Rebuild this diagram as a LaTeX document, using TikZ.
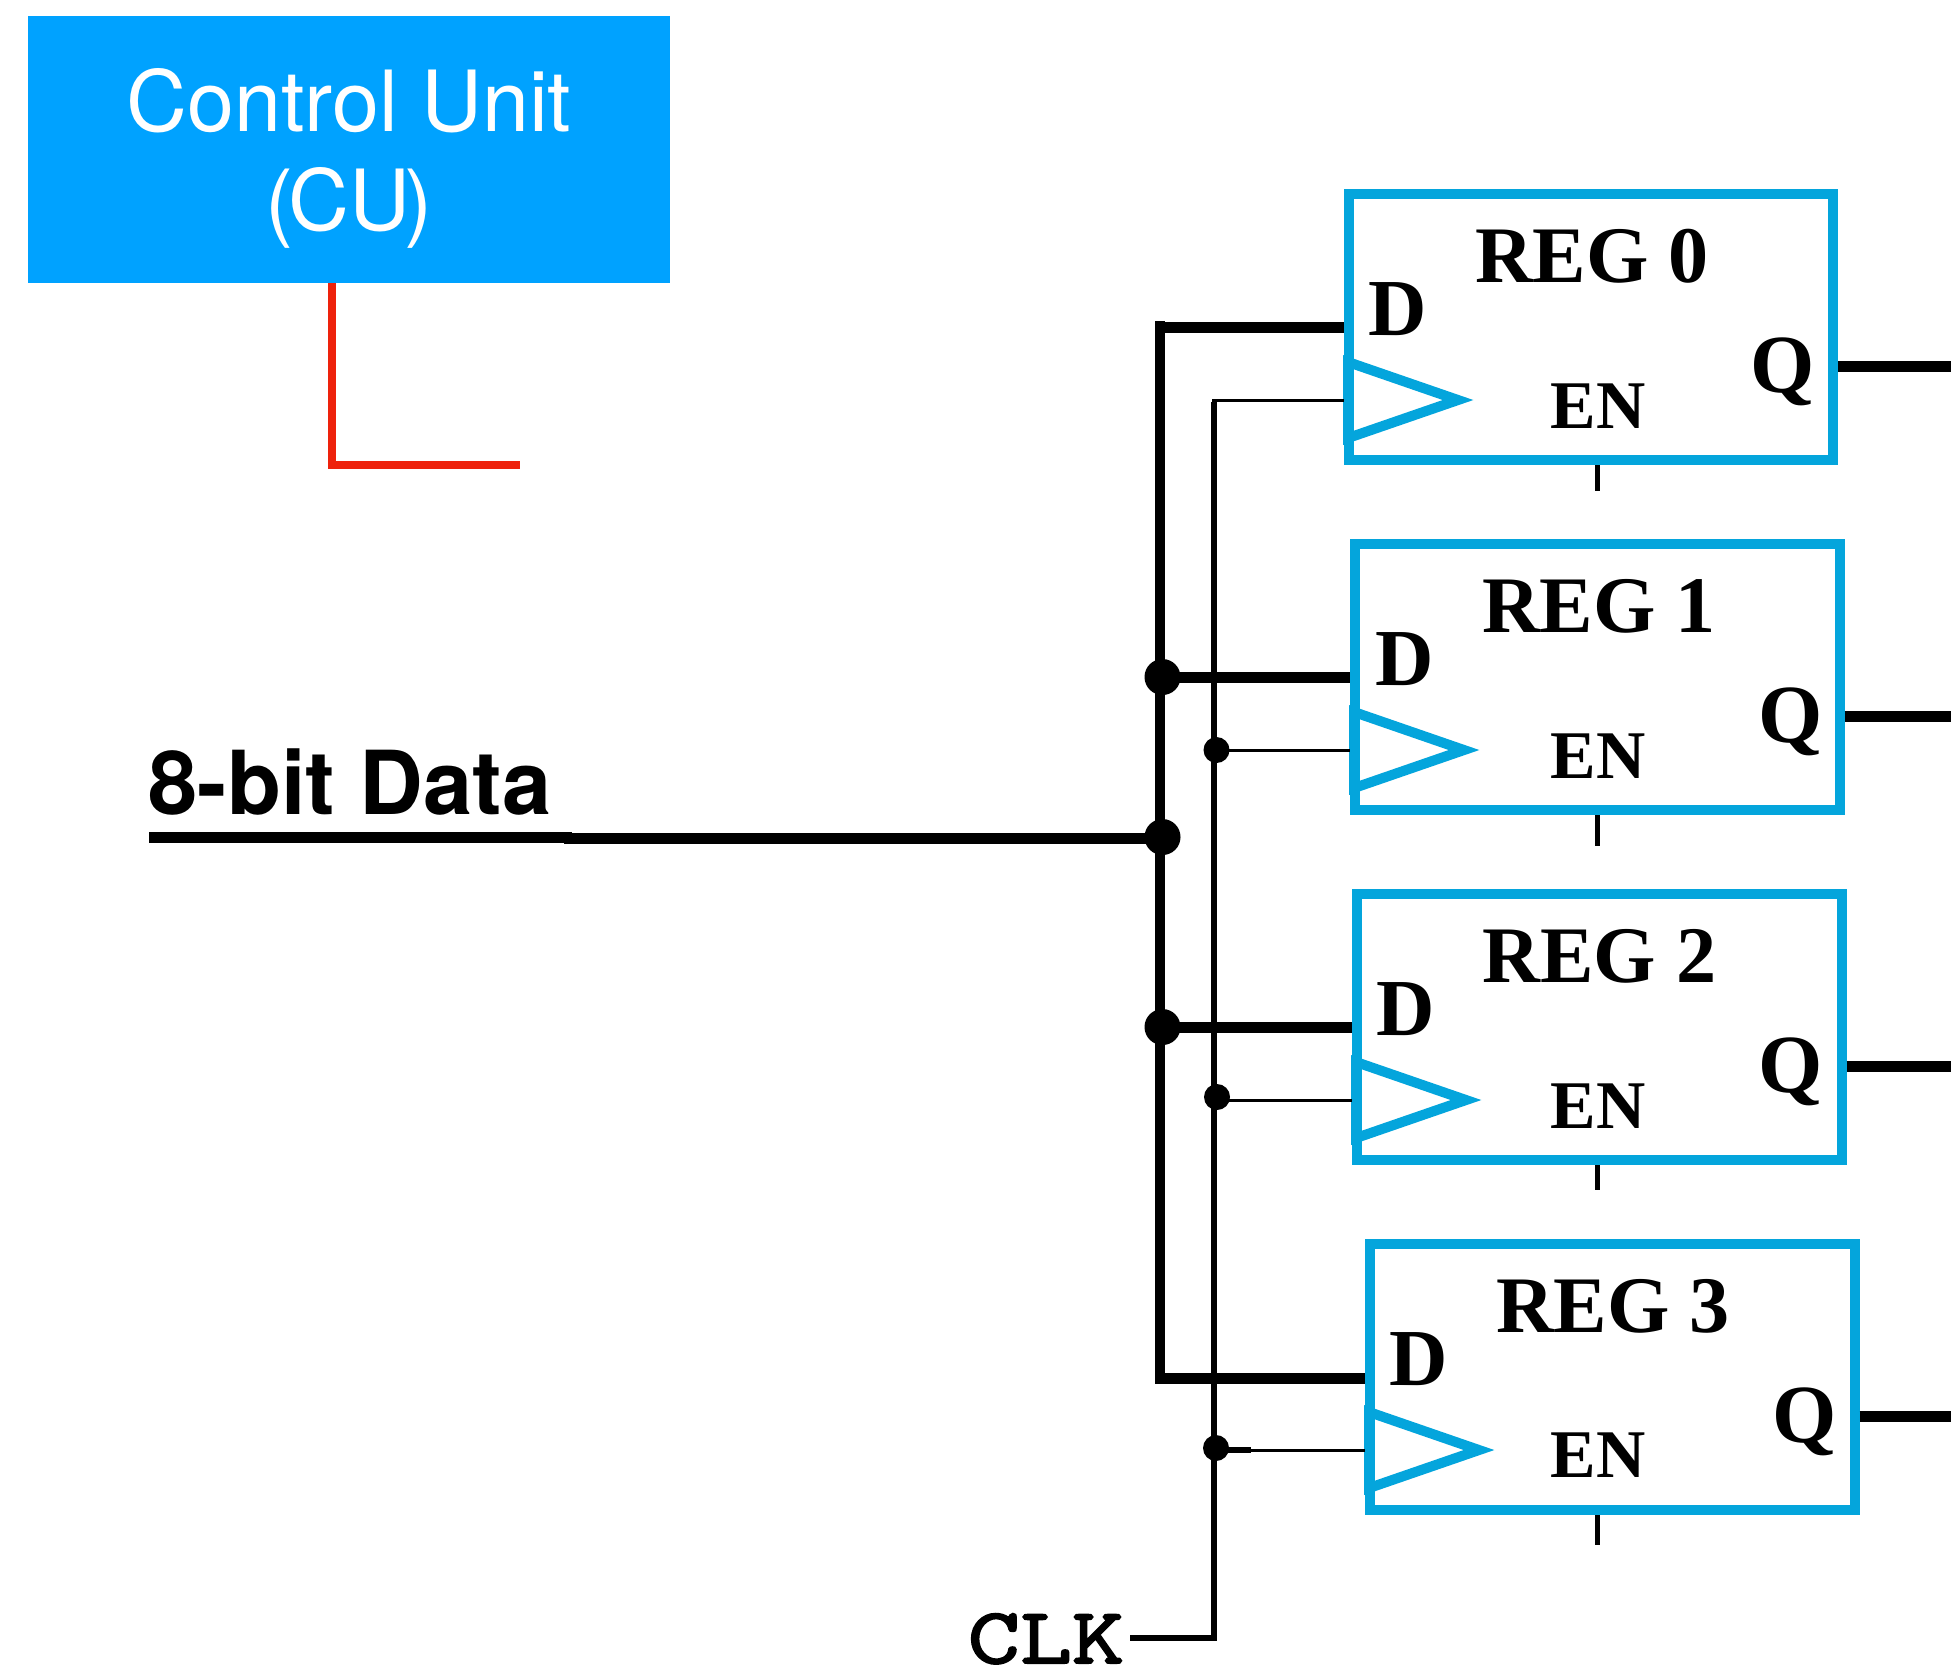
\documentclass[tikz,border=0pt]{standalone}
\usepackage{fontspec}
\setmainfont{Liberation Serif}
\setsansfont{TeX Gyre Heros}
\newfontfamily\clkfont[FakeBold=2.5,FakeStretch=1.28]{Latin Modern Mono}
\definecolor{cublue}{HTML}{00A2FF}
\definecolor{regblue}{HTML}{04A5DC}
\definecolor{cured}{HTML}{EE220C}

\begin{document}
\begin{tikzpicture}[x=0.01cm, y=-0.01cm]
\tikzset{regbox/.style={draw=regblue, line width=0.1cm, minimum width=4.84cm, minimum height=2.66cm, inner sep=0pt}}
\tikzset{clktri/.style={draw=regblue, line width=0.1cm, miter limit=10}}
\tikzset{cubox/.style={fill=cublue, minimum width=6.42cm, minimum height=2.67cm, inner sep=0pt, outer sep=0pt}}
\tikzset{bigdot/.style={fill=black, circle, minimum size=0.36cm, inner sep=0pt, outer sep=0pt}}
\tikzset{tinydot/.style={fill=black, circle, minimum size=0.26cm, inner sep=0pt, outer sep=0pt}}
\tikzset{buswire/.style={line width=0.11cm}}
\tikzset{clkwire/.style={line width=0.055cm}}
\tikzset{thinwire/.style={line width=0.03cm}}
\tikzset{tickwire/.style={line width=0.05cm}}
\tikzset{regname/.style={anchor=base, inner sep=0pt, font=\bfseries\fontsize{22.8}{24}\selectfont}}
\tikzset{dname/.style={anchor=base, inner sep=0pt, font=\bfseries\fontsize{23}{24}\selectfont}}
\tikzset{qname/.style={anchor=base, inner sep=0pt, font=\bfseries\fontsize{23.5}{26}\selectfont}}
\tikzset{enname/.style={anchor=base, inner sep=0pt, font=\bfseries\fontsize{19.4}{22}\selectfont}}
\tikzset{cuname/.style={anchor=base, inner sep=0pt, text=white, font=\sffamily\fontsize{24}{26}\selectfont}}
\useasboundingbox (0,0) rectangle (1951,1668);
% control unit
\node[cubox] (CU) at (349,149.5) {};
\node[cuname] (CUa) at (349,131.5) {Control Unit};
\node[cuname] (CUb) at (349,230.5) {(\kern-1.5pt CU\kern-1.5pt)};
\coordinate (RedC) at (332,465);
\coordinate (RedE) at (520,465);
\draw[cured, line width=0.08cm] (CU.south -| RedC) -- (RedC) -- (RedE);
% registers
\node[regbox] (R0) at (1591,327) {};
\node[regbox] (R1) at (1597.5,677) {};
\node[regbox] (R2) at (1599.5,1027) {};
\node[regbox] (R3) at (1612.5,1377) {};
\draw[clktri] (1348,362) -- (1458,400) -- (1348,438) -- cycle;
\draw[clktri] (1354,712) -- (1464,750) -- (1354,788) -- cycle;
\draw[clktri] (1356,1062) -- (1466,1100) -- (1356,1138) -- cycle;
\draw[clktri] (1369,1412) -- (1479,1450) -- (1369,1488) -- cycle;
% data bus
\node[bigdot] (J1) at (1162.5,677) {};
\node[bigdot] (J2) at (1162.5,837) {};
\node[bigdot] (J3) at (1162.5,1027) {};
\coordinate (BusT) at (1160,321);
\coordinate (BusB) at (1160,1384);
\coordinate (BusD0) at (1159,327);
\coordinate (BusD3) at (1155,1378);
\draw[line width=0.1cm] (BusT) -- (BusB);
\draw[buswire] (BusD0) -- (R0.west);
\draw[buswire] (J1.center) -- (R1.west);
\draw[buswire] (J3.center) -- (R2.west);
\draw[buswire] (BusD3) -- (R3.west |- BusD3);
\coordinate (DataA) at (149,837);
\coordinate (DataB) at (572,837);
\coordinate (DataC) at (563.5,838);
\draw[buswire] (DataA) -- (DataB);
\draw[buswire] (DataC) -- (J2.center |- DataC);
\node[anchor=base, inner sep=0pt, font=\sffamily\bfseries\fontsize{25.1}{27}\selectfont] (DataL) at (350,814) {8-bit Data};
% clock
\node[anchor=base, inner sep=0pt, font=\clkfont\fontsize{22.5}{25}\selectfont] (CLK) at (1046,1663) {CLK};
\coordinate (ClkA) at (1130,1638);
\coordinate (ClkB) at (1214,1638);
\coordinate (ClkT) at (1214,402);
\draw[clkwire] (ClkA) -- (ClkB) -- (ClkT);
\coordinate (C0) at (1212,400);
\node[tinydot] (C1) at (1216.5,750) {};
\node[tinydot] (C2) at (1217,1097) {};
\node[tinydot] (C3) at (1216,1448) {};
\coordinate (C2w) at (1217,1100.5);
\coordinate (C3w) at (1216,1450);
\coordinate (C3s) at (1251,1450);
\draw[thinwire] (C0) -- (R0.west |- C0);
\draw[thinwire] (C1.center) -- (R1.west |- C1);
\draw[thinwire] (C2w) -- (R2.west |- C2w);
\draw[clkwire] (C3w) -- (C3s);
\draw[thinwire] (C3s) -- (R3.west |- C3s);
% outputs
\coordinate (Q0) at (1951,366.5);
\coordinate (Q1) at (1951,716.5);
\coordinate (Q2) at (1951,1066.5);
\coordinate (Q3) at (1951,1416.5);
\draw[buswire] (R0.east |- Q0) -- (Q0);
\draw[buswire] (R1.east |- Q1) -- (Q1);
\draw[buswire] (R2.east |- Q2) -- (Q2);
\draw[buswire] (R3.east |- Q3) -- (Q3);
% enable pins
\coordinate (E0) at (1597.5,490.5);
\coordinate (E1) at (1597.5,846);
\coordinate (E2) at (1597.5,1190);
\coordinate (E3) at (1597,1545);
\draw[tickwire] (R0.south -| E0) -- (E0);
\draw[tickwire] (R1.south -| E1) -- (E1);
\draw[tickwire] (R2.south -| E2) -- (E2);
\draw[tickwire] (R3.south -| E3) -- (E3);
% labels
\node[regname] (N0) at (1592,282.5) {REG 0};
\node[regname] (N1) at (1599,632.5) {REG 1};
\node[regname] (N2) at (1599.5,982.5) {REG 2};
\node[regname] (N3) at (1613,1332.5) {REG 3};
\node[dname] (D0) at (1397.5,335) {D};
\node[dname] (D1) at (1405,685) {D};
\node[dname] (D2) at (1405.5,1035) {D};
\node[dname] (D3) at (1419,1385) {D};
\node[qname] (O0) at (1783,392) {Q};
\node[qname] (O1) at (1791,742) {Q};
\node[qname] (O2) at (1791,1092) {Q};
\node[qname] (O3) at (1805,1442) {Q};
\node[enname] (EN0) at (1598,428.5) {EN};
\node[enname] (EN1) at (1598,778) {EN};
\node[enname] (EN2) at (1598,1128) {EN};
\node[enname] (EN3) at (1598,1477) {EN};
\end{tikzpicture}
\end{document}
